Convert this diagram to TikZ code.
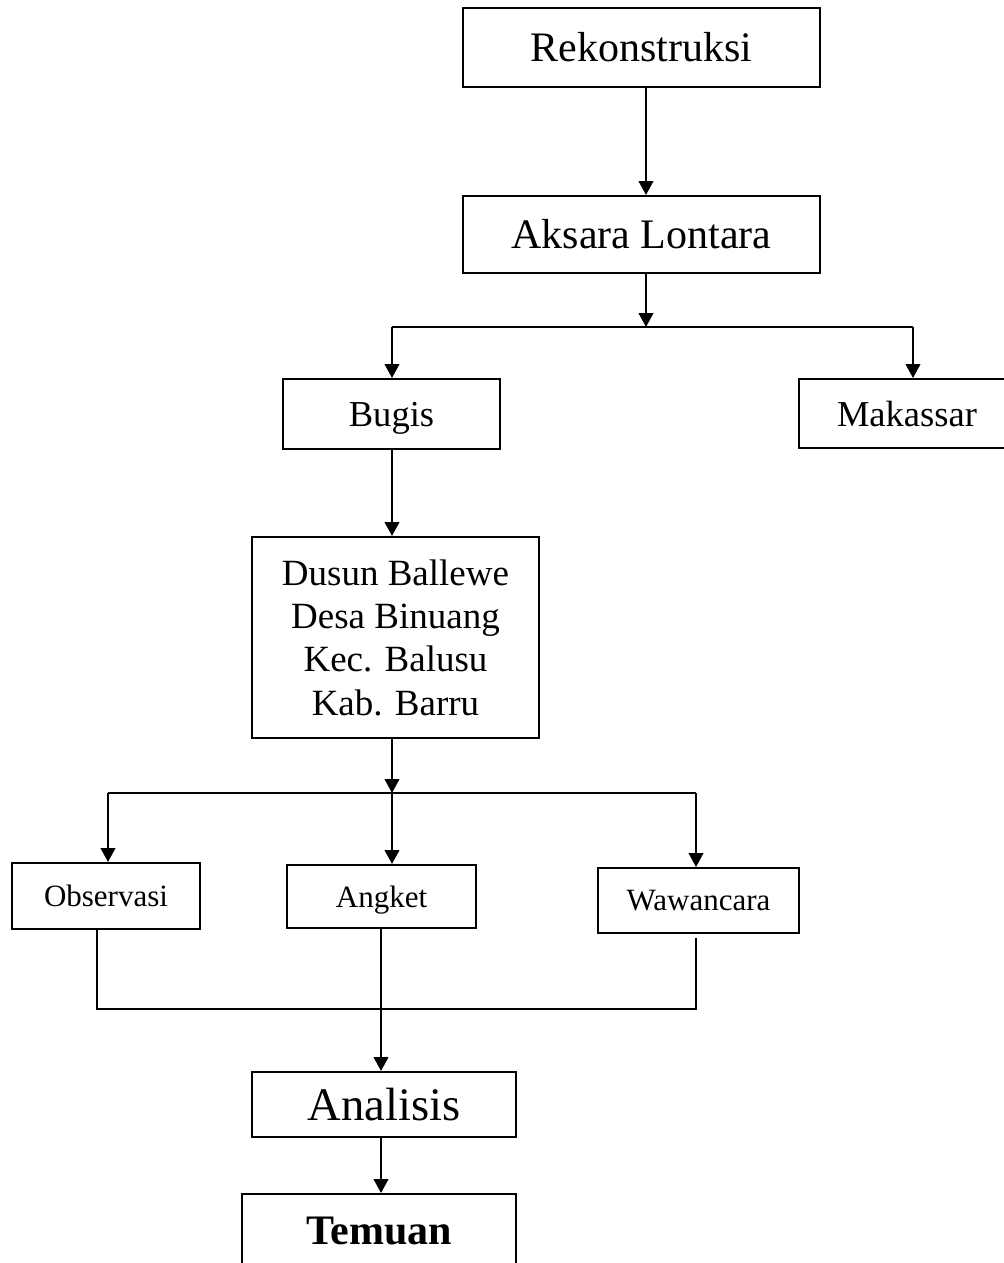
\documentclass[tikz,border=0pt]{standalone}
\usepackage{fontspec}
\setmainfont{Liberation Serif}
\usetikzlibrary{arrows.meta}
\tikzset{
  mybox/.style={
    draw, rectangle, line width=1.5pt, inner sep=0pt, align=center
  },
  flat/.style={text depth=0pt},
  myline/.style={line width=1.5pt},
  myarrow/.style={
    line width=1.5pt, -{Triangle[width=11pt,length=10.5pt]}
  }
}

\begin{document}
\begin{tikzpicture}[x=0.75pt, y=-0.75pt]
   \useasboundingbox (0,0) rectangle (1003,1263);

   % boxes
   \node[mybox, minimum width=357*0.75pt, minimum height=79*0.75pt,
     font=\fontsize{31.5}{37}\selectfont] (rekon) at (641.5,47.5) {Rekonstruksi};
   \node[mybox, minimum width=357*0.75pt, minimum height=77*0.75pt,
     font=\fontsize{31.5}{37}\selectfont] (aksara) at (641.5,234.5) {Aksara Lontara};
   \node[mybox, flat, minimum width=217*0.75pt, minimum height=70*0.75pt,
     font=\fontsize{27.4}{32}\selectfont] (bugis) at (391.5,414) {Bugis};
   \node[mybox, minimum width=216*0.75pt, minimum height=69*0.75pt,
     font=\fontsize{27.4}{32}\selectfont] (makassar) at (907,413.5) {Makassar};
   \node[mybox, minimum width=287*0.75pt, minimum height=201*0.75pt,
     font=\fontsize{27.75}{32.5}\selectfont] (dusun) at (395.5,637.5)
     {Dusun Ballewe\\Desa Binuang\\Kec. Balusu\\Kab. Barru};
   \node[mybox, minimum width=188*0.75pt, minimum height=66*0.75pt,
     font=\fontsize{23.25}{28}\selectfont] (observasi) at (106,896) {Observasi};
   \node[mybox, flat, minimum width=189*0.75pt, minimum height=63*0.75pt,
     font=\fontsize{23.25}{28}\selectfont] (angket) at (381.5,896.5) {Angket};
   \node[mybox, minimum width=201*0.75pt, minimum height=65*0.75pt,
     font=\fontsize{23.25}{28}\selectfont] (wawancara) at (698.5,900.5) {Wawancara};
   \node[mybox, minimum width=264*0.75pt, minimum height=65*0.75pt,
     font=\fontsize{35}{41}\selectfont] (analisis) at (384,1104.5) {Analisis};
   \node[mybox, minimum width=274*0.75pt, minimum height=74*0.75pt,
     font=\fontsize{31.5}{37}\selectfont\bfseries] (temuan) at (379,1231) {Temuan};

   % branch points
   \coordinate (cab) at (646,327);
   \coordinate (cabL) at (392,327);
   \coordinate (cabR) at (913,327);
   \coordinate (pecah) at (392,793);
   \coordinate (pecahL) at (108,793);
   \coordinate (pecahR) at (696,793);
   \coordinate (gabungL) at (97,1009);
   \coordinate (gabungR) at (696,1009);
   \coordinate (gabungT) at (696,938);
   \coordinate (turun) at (381,1009);

   \draw[myarrow] (rekon.south -| cab) -- (aksara.north -| cab);
   \draw[myarrow] (aksara.south -| cab) -- (cab);
   \draw[myline] (cabL) -- (cabR);
   \draw[myarrow] (cabL) -- (bugis.north -| cabL);
   \draw[myarrow] (cabR) -- (makassar.north -| cabR);

   \draw[myarrow] (bugis.south -| pecah) -- (dusun.north -| pecah);
   \draw[myarrow] (dusun.south -| pecah) -- (pecah);
   \draw[myline] (pecahL) -- (pecahR);
   \draw[myarrow] (pecahL) -- (observasi.north -| pecahL);
   \draw[myarrow] (pecah) -- (angket.north -| pecah);
   \draw[myarrow] (pecahR) -- (wawancara.north -| pecahR);

   \draw[myline] (observasi.south -| gabungL) -- (gabungL) -- (gabungR) -- (gabungT);
   \draw[myarrow] (angket.south -| turun) -- (analisis.north -| turun);
   \draw[myarrow] (analisis.south -| turun) -- (temuan.north -| turun);
\end{tikzpicture}
\end{document}
